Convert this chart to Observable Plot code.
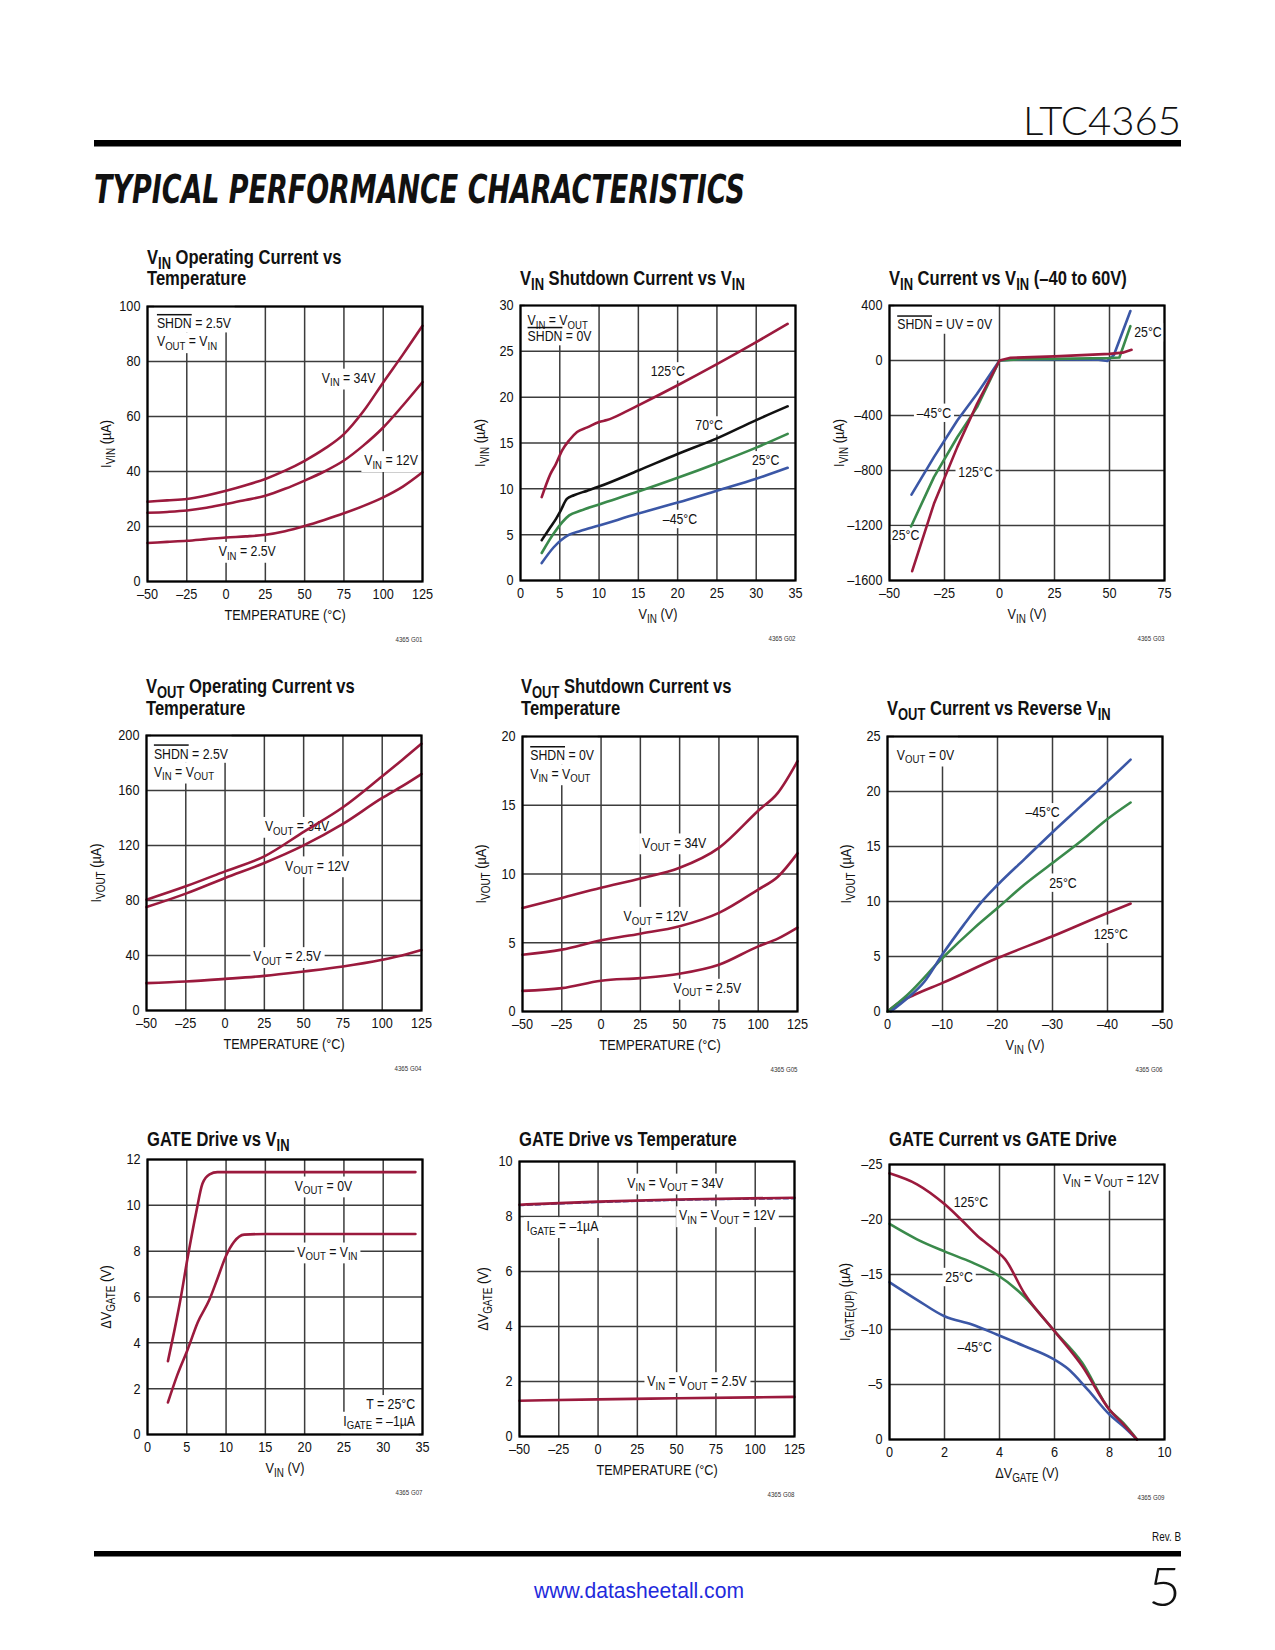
<!DOCTYPE html>
<html><head><meta charset="utf-8">
<script src="https://cdn.jsdelivr.net/npm/d3@7"></script>
<script src="https://cdn.jsdelivr.net/npm/@observablehq/plot@0.6"></script>
<style>
html,body{margin:0;padding:0;background:#fff;}
#page{position:relative;width:1275px;height:1650px;overflow:hidden;background:#fff;}
.chart{position:absolute;}
#overlay{position:absolute;left:0;top:0;}
</style></head>
<body><div id="page"></div>
<script>
// ================= DATA =================
// G01  VIN operating current vs temperature
const g1Temp   = [-50,-37.5,-25,-12.5,0,12.5,25,37.5,50,62.5,75,87.5,100,112.5,125];
const g1Vin34  = [29,29.5,30,31.3,33,35,37.3,40.3,43.9,48.2,53.6,62,72.4,82.5,93];
const g1Vin12  = [25,25.3,25.8,26.8,28.2,29.6,31.2,33.7,36.7,40,44,49.5,56,64,72.5];
const g1Vin2p5 = [14,14.4,14.8,15.4,16,16.4,17,18.3,20.2,22.4,24.8,27.5,30.6,34.5,39.7];
const g1LabelText = ["V{IN} = 34V","V{IN} = 12V","V{IN} = 2.5V"];
const g1LabelX = [78,105,13.5];
const g1LabelY = [74,44,11];
const g1NoteText = ["~SHDN~ = 2.5V\nV{OUT} = V{IN}"];
const g1NoteX = [-44]; const g1NoteY = [96];
const g1XTicks = [-50,-25,0,25,50,75,100,125];
const g1YTicks = [0,20,40,60,80,100];

// G02  VIN shutdown current vs VIN
const g2Vin125 = [2.7,3.8,4.5,5.3,6.2,7.2,8.5,10,11,13.6,15,20,25,30,34];
const g2I125   = [9.1,11.6,12.7,14.2,15.3,16.2,16.7,17.3,17.5,18.5,19.1,21.3,23.6,26.0,28.0];
const g2Vin70  = [2.7,3.8,4.5,5.1,5.9,6.8,8.5,10,15,20,25,30,34];
const g2I70    = [4.4,5.8,6.7,7.6,8.9,9.3,9.8,10.25,12,13.8,15.5,17.5,19.0];
const g2Vin25  = [2.7,4.2,6.2,7.6,10,15,20,25,30,34];
const g2I25    = [3.0,5.1,7.1,7.6,8.3,9.7,11.2,12.8,14.5,16.0];
const g2VinM45 = [2.7,4.2,6.2,7.6,10,15,20,25,30,34];
const g2IM45   = [1.9,3.6,5.0,5.4,6.0,7.3,8.5,9.8,11.1,12.3];
const g2LabelText = ["125°C","70°C","25°C","–45°C"];
const g2LabelX = [18.75,24,31.2,20.3];
const g2LabelY = [22.8,16.9,13.1,6.7];
const g2NoteText = ["V{IN} = V{OUT}\n~SHDN~ = 0V"];
const g2NoteX = [0.9]; const g2NoteY = [29];
const g2XTicks = [0,5,10,15,20,25,30,35];
const g2YTicks = [0,5,10,15,20,25,30];

// G03  VIN current vs VIN (-40 to 60V)
const g3VinM45 = [-40,-29.8,-19.2,-10.2,0,5,25,45,49,52,59.5];
const g3IM45   = [-975,-703,-436,-242,0,5,8,6,-3,40,360];
const g3Vin25  = [-40.2,-29.8,-19.2,-10.2,0,10,25,50,54.5,59.5];
const g3I25    = [-1207,-848,-558,-339,0,10,12,18,22,250];
const g3Vin125 = [-39.7,-29.8,-19.2,-10.2,0,5,25,50,56,60];
const g3I125   = [-1532,-1042,-630,-315,0,20,30,48,57,78];
const g3LabelText = ["–45°C","125°C","25°C","25°C"];
const g3LabelX = [-29.8,-10.9,-42.7,67.5];
const g3LabelY = [-381,-812,-1273,204];
const g3NoteText = ["~SHDN~ = UV = 0V"];
const g3NoteX = [-46.5]; const g3NoteY = [303];
const g3XTicks = [-50,-25,0,25,50,75];
const g3YTicks = [-1600,-1200,-800,-400,0,400];

// G04  VOUT operating current vs temperature
const g4Temp   = [-50,-25,0,25,50,75,100,112.5,125];
const g4Vout34 = [80.6,90.3,101.2,112.1,129.9,147.8,170.4,182,194];
const g4Vout12 = [75.2,85,96.4,107.3,120.1,135.7,154.6,163,172];
const g4Vout2p5= [19.9,21.1,23,25.2,28.4,32,36.9,40,44];
const g4LabelText = ["V{OUT} = 34V","V{OUT} = 12V","V{OUT} = 2.5V"];
const g4LabelX = [45.8,58.6,39.5];
const g4LabelY = [134,105.3,39.3];
const g4NoteText = ["~SHDN~ = 2.5V\nV{IN} = V{OUT}"];
const g4NoteX = [-45.3]; const g4NoteY = [191];
const g4XTicks = [-50,-25,0,25,50,75,100,125];
const g4YTicks = [0,40,80,120,160,200];

// G05  VOUT shutdown current vs temperature
const g5Temp   = [-50,-25,0,25,50,75,100,112.5,125];
const g5Vout34 = [7.53,8.26,9.0,9.67,10.45,11.9,14.6,15.9,18.2];
const g5Vout12 = [4.13,4.5,5.18,5.66,6.2,7.17,8.87,9.8,11.5];
const g5Vout2p5= [1.5,1.7,2.24,2.43,2.75,3.4,4.74,5.3,6.1];
const g5LabelText = ["V{OUT} = 34V","V{OUT} = 12V","V{OUT} = 2.5V"];
const g5LabelX = [46.5,34.8,67.7];
const g5LabelY = [12.27,6.93,1.7];
const g5NoteText = ["~SHDN~ = 0V\nV{IN} = V{OUT}"];
const g5NoteX = [-45.1]; const g5NoteY = [19.05];
const g5XTicks = [-50,-25,0,25,50,75,100,125];
const g5YTicks = [0,5,10,15,20];

// G06  VOUT current vs reverse VIN
const g6VinM45 = [-0.6,-3.6,-6.7,-10,-13.9,-17,-20,-25,-30,-35,-40,-44.2];
const g6IM45   = [0,1.2,2.7,5.2,7.9,9.9,11.5,13.9,16.3,18.6,20.9,22.9];
const g6Vin25  = [0,-3.6,-10,-15.8,-20,-24.8,-30,-35.2,-40,-44.2];
const g6I25    = [0,1.5,4.86,7.6,9.4,11.5,13.5,15.5,17.5,19.0];
const g6Vin125 = [0,-2.4,-4.8,-10,-20,-30,-40,-44.2];
const g6I125   = [0,0.9,1.5,2.6,4.86,6.84,8.96,9.8];
const g6LabelText = ["–45°C","25°C","125°C"];
const g6LabelX = [-28.2,-31.9,-40.6];
const g6LabelY = [18.1,11.7,7.05];
const g6NoteText = ["V{OUT} = 0V"];
const g6NoteX = [-1.7]; const g6NoteY = [23.85];
const g6XTicks = [0,-10,-20,-30,-40,-50];
const g6YTicks = [0,5,10,15,20,25];

// G07  GATE drive vs VIN
const g7VinA   = [2.6,3.4,4.2,5.1,6.2,7,7.9,8.9,12,20,34.1];
const g7GateA  = [3.2,4.5,5.9,7.7,9.7,10.95,11.35,11.45,11.45,11.45,11.45];
const g7VinB   = [2.6,3.8,5.1,6.4,7.9,8.9,10,11,12.3,15,34.1];
const g7GateB  = [1.4,2.6,3.7,4.9,5.9,6.8,7.8,8.4,8.72,8.75,8.75];
const g7LabelText = ["V{OUT} = 0V","V{OUT} = V{IN}"];
const g7LabelX = [22.4,22.9];
const g7LabelY = [10.85,7.97];
const g7NoteText = ["T = 25°C\nI{GATE} = –1µA"];
const g7NoteX = [34.05]; const g7NoteY = [1.57];
const g7XTicks = [0,5,10,15,20,25,30,35];
const g7YTicks = [0,2,4,6,8,10,12];

// G08  GATE drive vs temperature
const g8Temp    = [-50,0,50,125];
const g8Gate34  = [8.43,8.54,8.62,8.68];
const g8Gate12  = [8.40,8.51,8.59,8.65];
const g8Gate2p5 = [1.30,1.35,1.39,1.44];
const g8LabelText = ["V{IN} = V{OUT} = 34V","V{IN} = V{OUT} = 12V","V{IN} = V{OUT} = 2.5V"];
const g8LabelX = [49.2,82.1,63];
const g8LabelY = [9.22,8.03,2.0];
const g8NoteText = ["I{GATE} = –1µA"];
const g8NoteX = [-45.5]; const g8NoteY = [7.85];
const g8XTicks = [-50,-25,0,25,50,75,100,125];
const g8YTicks = [0,2,4,6,8,10];

// G09  GATE current vs GATE drive
const g9Drive125 = [0,1,2,2.6,3.2,3.8,4.2,4.9,6,7,8,8.5,9];
const g9I125     = [-24.2,-23.2,-21.4,-20,-18.5,-17.3,-16.4,-13.3,-9.85,-6.7,-2.7,-1.4,0];
const g9Drive25  = [0,1,2,3,3.9,4.9,6,7,8,8.5,9];
const g9I25      = [-19.6,-18.2,-17.1,-16.1,-15,-13,-9.85,-7.0,-2.7,-1.5,0];
const g9DriveM45 = [0,1,2,3,3.9,4.9,5.9,6.5,7.2,8,8.5,9];
const g9IM45     = [-14.3,-12.7,-11.2,-10.45,-9.55,-8.5,-7.4,-6.4,-4.55,-2.27,-1.2,0];
const g9LabelText = ["125°C","25°C","–45°C"];
const g9LabelX = [2.96,2.53,3.1];
const g9LabelY = [-21.6,-14.76,-8.4];
const g9NoteText = ["V{IN} = V{OUT} = 12V"];
const g9NoteX = [9.8]; const g9NoteY = [-24.2];
const g9XTicks = [0,2,4,6,8,10];
const g9YTicks = [0,-5,-10,-15,-20,-25];

// ================= STYLE / LAYOUT =================
const RED = "#9b1a3d", BLUE = "#3b57a6", GREEN = "#3a8a4b", BLACK = "#111";
const GRID = "#3c3c3c";
const FONT = "'Liberation Sans',Arial,Helvetica,sans-serif";
const ML = 60, MR = 25, MT = 20, MB = 70, FW = 275, FH = 275;
const NS = "http://www.w3.org/2000/svg";
const dash = d => d < 0 ? "–" + Math.abs(d) : String(d);
const rows = (xs, ys) => xs.map((x, i) => ({x, y: ys[i]})).sort((a, b) => a.x - b.x);
const tri = (t, xs, ys) => t.map((s, i) => ({t: s, x: xs[i], y: ys[i]}));

// {..} = subscript, ~..~ = overline
function richify(root) {
  const els = Array.from(root.querySelectorAll("text, tspan"))
    .filter(el => el.children.length === 0 && /[{~]/.test(el.textContent));
  for (const el of els) {
    const s = el.textContent;
    el.textContent = "";
    const re = /\{([^}]*)\}|~([^~]*)~|([^{~]+)/g;
    let m, low = false;
    while ((m = re.exec(s))) {
      const t = document.createElementNS(NS, "tspan");
      if (m[1] != null) {
        t.textContent = m[1];
        t.setAttribute("font-size", "78%");
        if (!low) t.setAttribute("dy", "0.3em");
        low = true;
      } else {
        t.textContent = m[2] != null ? m[2] : m[3];
        if (m[2] != null) { t.setAttribute("text-decoration", "overline"); t.style.textDecoration = "overline"; }
        if (low) t.setAttribute("dy", "-0.234em");
        low = false;
      }
      el.appendChild(t);
    }
  }
}
// horizontally condense text around its anchor (reference uses a condensed face)
function condense(root, k) {
  root.querySelectorAll("text").forEach(t => {
    if (t.hasAttribute("textLength") || !t.textContent.trim()) return;
    const ax = parseFloat(t.getAttribute("x")) || 0;
    const prev = t.getAttribute("transform") || "";
    t.setAttribute("transform", `${prev} translate(${ax},0) scale(${k},1) translate(${-ax},0)`.trim());
  });
}
// white background boxes behind in-plot annotations (they break the grid in the reference)
function addBoxes(svg, c, nLines) {
  const texts = Array.from(svg.querySelectorAll('text[aria-label^="lbl"]'));
  if (!texts.length) return;
  const firstGroup = texts[0].closest("svg > g") || texts[0].parentNode;
  const bg = document.createElementNS(NS, "g");
  bg.setAttribute("aria-hidden", "true");
  svg.insertBefore(bg, firstGroup);
  for (const t of texts) {
    const kind = t.getAttribute("aria-label");
    const b = t.getBBox(), m = t.getCTM();
    let top = 1, bot = 1;
    if (kind === "lbl-note0") top += c.boxTop || 0;
    if (kind === "lbl-note" + (nLines - 1)) bot += c.boxBottom || 0;
    const r = document.createElementNS(NS, "rect");
    r.setAttribute("x", b.x - 3.5); r.setAttribute("y", b.y - top);
    r.setAttribute("width", b.width + 7); r.setAttribute("height", b.height + top + bot);
    r.setAttribute("fill", "white");
    r.setAttribute("transform", `matrix(${m.a},${m.b},${m.c},${m.d},${m.e},${m.f})`);
    bg.appendChild(r);
  }
}

const page = document.getElementById("page");

function chart(c) {
  const noteRows = [];
  c.notes.forEach(n => n.t.split("\n").forEach((line, i) => noteRows.push({t: line, x: n.x, y: n.y, i})));
  const nLines = noteRows.length ? d3.max(noteRows, d => d.i) + 1 : 0;
  const textMarks = [Plot.text(c.labels, {x: "x", y: "y", text: "t", textAnchor: "middle", fontSize: 15, fill: "#111", ariaLabel: () => "lbl"})];
  for (let i = 0; i < nLines; i++) {
    textMarks.push(Plot.text(noteRows.filter(d => d.i === i), {x: "x", y: "y", text: "t", fill: "#111",
      textAnchor: c.noteAnchor || "start", lineAnchor: "top", dy: i * (c.noteLH || 18.3), fontSize: 15,
      ariaLabel: () => "lbl-note" + i}));
  }
  const marks = [
    Plot.gridX({ticks: c.xTicks, stroke: GRID, strokeOpacity: 1, strokeWidth: 1.5}),
    Plot.gridY({ticks: c.yTicks, stroke: GRID, strokeOpacity: 1, strokeWidth: 1.5}),
    Plot.axisX({ticks: c.xTicks, tickSize: 0, tickPadding: 6, tickFormat: dash, fontSize: 15.5,
      label: c.xLabel, labelAnchor: "center", labelOffset: 38.5, labelArrow: "none"}),
    Plot.axisY({ticks: c.yTicks, tickSize: 0, tickPadding: 7, tickFormat: dash, fontSize: 15.5,
      label: c.yLabel, labelAnchor: "center", labelOffset: c.yOff + 5.5, labelArrow: "none"}),
    ...textMarks,
    ...c.series.map(s => Plot.line(rows(s.x, s.y), {x: "x", y: "y", stroke: s.color, strokeWidth: s.w || 2.6,
      strokeDasharray: s.dash, curve: c.curve || "monotone-x"})),
    Plot.frame({stroke: "#000", strokeWidth: 2.2}),
    Plot.text([c.code], {text: d => d, frameAnchor: "bottom-right", textAnchor: "end", dy: 60, fontSize: 7.5, fill: "#333"})
  ];
  const svg = Plot.plot({
    width: ML + FW + MR, height: MT + FH + MB,
    marginLeft: ML, marginRight: MR, marginTop: MT, marginBottom: MB,
    x: {domain: c.xDomain}, y: {domain: c.yDomain},
    style: {fontFamily: FONT, fontSize: "15px", overflow: "visible", maxWidth: "none", background: "transparent", color: "#111"},
    marks
  });
  richify(svg);
  const div = document.createElement("div");
  div.className = "chart";
  div.style.left = (c.left - ML) + "px";
  div.style.top = (c.top - MT) + "px";
  div.appendChild(svg);
  page.appendChild(div);
  condense(svg, 0.82);
  addBoxes(svg, c, nLines);
}

// ================= OVERLAY (header, titles, footer) =================
const titles = [
  {x: 147, y: [264, 285], lines: ["V{IN} Operating Current vs", "Temperature"]},
  {x: 520, y: [285], lines: ["V{IN} Shutdown Current vs V{IN}"]},
  {x: 889, y: [285], lines: ["V{IN} Current vs V{IN} (–40 to 60V)"]},
  {x: 146, y: [693, 715], lines: ["V{OUT} Operating Current vs", "Temperature"]},
  {x: 521, y: [693, 715], lines: ["V{OUT} Shutdown Current vs", "Temperature"]},
  {x: 887, y: [715], lines: ["V{OUT} Current vs Reverse V{IN}"]},
  {x: 147, y: [1146], lines: ["GATE Drive vs V{IN}"]},
  {x: 519, y: [1146], lines: ["GATE Drive vs Temperature"]},
  {x: 889, y: [1146], lines: ["GATE Current vs GATE Drive"]}
];
const FQ = FONT.replace(/'/g, "&quot;");
let ov = `<svg id="overlay" xmlns="${NS}" width="1275" height="1650">
<text x="1181" y="135" text-anchor="end" font-family="Lato,'DejaVu Sans',sans-serif" font-weight="300" font-size="39" textLength="158" lengthAdjust="spacingAndGlyphs" fill="#111">LTC4365</text>
<rect x="94" y="140" width="1087" height="6.5" fill="#000"/>
<text x="94" y="203" font-family="'DejaVu Sans',sans-serif" font-weight="900" font-style="italic" font-size="39" textLength="651" lengthAdjust="spacingAndGlyphs" fill="#111">TYPICAL PERFORMANCE CHARACTERISTICS</text>
<rect x="94" y="1551" width="1087" height="5.5" fill="#000"/>
<text x="1181" y="1541" text-anchor="end" font-family="${FQ}" font-size="12.5" fill="#111">Rev. B</text>
<text x="639" y="1598" text-anchor="middle" font-family="${FQ}" font-size="22" textLength="210" lengthAdjust="spacingAndGlyphs" fill="#1f2bdc">www.datasheetall.com</text>
<text x="1181" y="1606" text-anchor="end" font-family="Lato,'DejaVu Sans',sans-serif" font-weight="300" font-size="54" textLength="33" lengthAdjust="spacingAndGlyphs" fill="#111">5</text>
`;
for (const t of titles) {
  t.lines.forEach((l, i) => {
    ov += `<text x="${t.x}" y="${t.y[i]}" font-family="${FQ}" font-weight="bold" font-size="21" fill="#111">${l}</text>`;
  });
}
ov += `</svg>`;
page.insertAdjacentHTML("beforeend", ov);
const overlay = document.getElementById("overlay");
richify(overlay);
condense(overlay, 0.79);

// ================= CHARTS =================
chart({left: 147, top: 306, code: "4365 G01", yOff: 42, boxTop: 11,
  xDomain: [-50, 125], yDomain: [0, 100], xTicks: g1XTicks, yTicks: g1YTicks,
  xLabel: "TEMPERATURE (°C)", yLabel: "I{VIN} (µA)",
  labels: tri(g1LabelText, g1LabelX, g1LabelY), notes: tri(g1NoteText, g1NoteX, g1NoteY),
  series: [{x: g1Temp, y: g1Vin34, color: RED}, {x: g1Temp, y: g1Vin12, color: RED}, {x: g1Temp, y: g1Vin2p5, color: RED}]});

chart({left: 520, top: 305, code: "4365 G02", yOff: 41, noteLH: 15.7, boxTop: 8,
  xDomain: [0, 35], yDomain: [0, 30], xTicks: g2XTicks, yTicks: g2YTicks,
  xLabel: "V{IN} (V)", yLabel: "I{VIN} (µA)",
  labels: tri(g2LabelText, g2LabelX, g2LabelY), notes: tri(g2NoteText, g2NoteX, g2NoteY),
  series: [{x: g2Vin125, y: g2I125, color: RED}, {x: g2Vin70, y: g2I70, color: BLACK},
           {x: g2Vin25, y: g2I25, color: GREEN}, {x: g2VinM45, y: g2IM45, color: BLUE}]});

chart({left: 889, top: 305, code: "4365 G03", yOff: 51, curve: "linear", boxTop: 11,
  xDomain: [-50, 75], yDomain: [-1600, 400], xTicks: g3XTicks, yTicks: g3YTicks,
  xLabel: "V{IN} (V)", yLabel: "I{VIN} (µA)",
  labels: tri(g3LabelText, g3LabelX, g3LabelY), notes: tri(g3NoteText, g3NoteX, g3NoteY),
  series: [{x: g3VinM45, y: g3IM45, color: BLUE}, {x: g3Vin25, y: g3I25, color: GREEN}, {x: g3Vin125, y: g3I125, color: RED}]});

chart({left: 146, top: 734.5, code: "4365 G04", yOff: 51, boxTop: 11,
  xDomain: [-50, 125], yDomain: [0, 200], xTicks: g4XTicks, yTicks: g4YTicks,
  xLabel: "TEMPERATURE (°C)", yLabel: "I{VOUT} (µA)",
  labels: tri(g4LabelText, g4LabelX, g4LabelY), notes: tri(g4NoteText, g4NoteX, g4NoteY),
  series: [{x: g4Temp, y: g4Vout34, color: RED}, {x: g4Temp, y: g4Vout12, color: RED}, {x: g4Temp, y: g4Vout2p5, color: RED}]});

chart({left: 521.5, top: 735.5, code: "4365 G05", yOff: 42, boxTop: 11,
  xDomain: [-50, 125], yDomain: [0, 20], xTicks: g5XTicks, yTicks: g5YTicks,
  xLabel: "TEMPERATURE (°C)", yLabel: "I{VOUT} (µA)",
  labels: tri(g5LabelText, g5LabelX, g5LabelY), notes: tri(g5NoteText, g5NoteX, g5NoteY),
  series: [{x: g5Temp, y: g5Vout34, color: RED}, {x: g5Temp, y: g5Vout12, color: RED}, {x: g5Temp, y: g5Vout2p5, color: RED}]});

chart({left: 887, top: 735.5, code: "4365 G06", yOff: 42, boxTop: 11,
  xDomain: [0, -50], yDomain: [0, 25], xTicks: g6XTicks, yTicks: g6YTicks,
  xLabel: "V{IN} (V)", yLabel: "I{VOUT} (µA)",
  labels: tri(g6LabelText, g6LabelX, g6LabelY), notes: tri(g6NoteText, g6NoteX, g6NoteY),
  series: [{x: g6Vin125, y: g6I125, color: RED}, {x: g6Vin25, y: g6I25, color: GREEN}, {x: g6VinM45, y: g6IM45, color: BLUE}]});

chart({left: 147, top: 1159, code: "4365 G07", yOff: 42, noteAnchor: "end", noteLH: 16.7, boxBottom: 8,
  xDomain: [0, 35], yDomain: [0, 12], xTicks: g7XTicks, yTicks: g7YTicks,
  xLabel: "V{IN} (V)", yLabel: "ΔV{GATE} (V)",
  labels: tri(g7LabelText, g7LabelX, g7LabelY), notes: tri(g7NoteText, g7NoteX, g7NoteY),
  series: [{x: g7VinA, y: g7GateA, color: RED}, {x: g7VinB, y: g7GateB, color: RED}]});

chart({left: 519, top: 1161, code: "4365 G08", yOff: 37,
  xDomain: [-50, 125], yDomain: [0, 10], xTicks: g8XTicks, yTicks: g8YTicks,
  xLabel: "TEMPERATURE (°C)", yLabel: "ΔV{GATE} (V)",
  labels: tri(g8LabelText, g8LabelX, g8LabelY), notes: tri(g8NoteText, g8NoteX, g8NoteY),
  series: [{x: g8Temp, y: g8Gate12, color: BLUE, dash: "5,3", w: 1.6}, {x: g8Temp, y: g8Gate34, color: RED},
           {x: g8Temp, y: g8Gate2p5, color: RED}]});

chart({left: 889, top: 1163.5, code: "4365 G09", yOff: 45, noteAnchor: "end", boxTop: 8,
  xDomain: [0, 10], yDomain: [0, -25], xTicks: g9XTicks, yTicks: g9YTicks,
  xLabel: "ΔV{GATE} (V)", yLabel: "I{GATE(UP)} (µA)",
  labels: tri(g9LabelText, g9LabelX, g9LabelY), notes: tri(g9NoteText, g9NoteX, g9NoteY),
  series: [{x: g9DriveM45, y: g9IM45, color: BLUE}, {x: g9Drive25, y: g9I25, color: GREEN}, {x: g9Drive125, y: g9I125, color: RED}]});
</script>
</body></html>
